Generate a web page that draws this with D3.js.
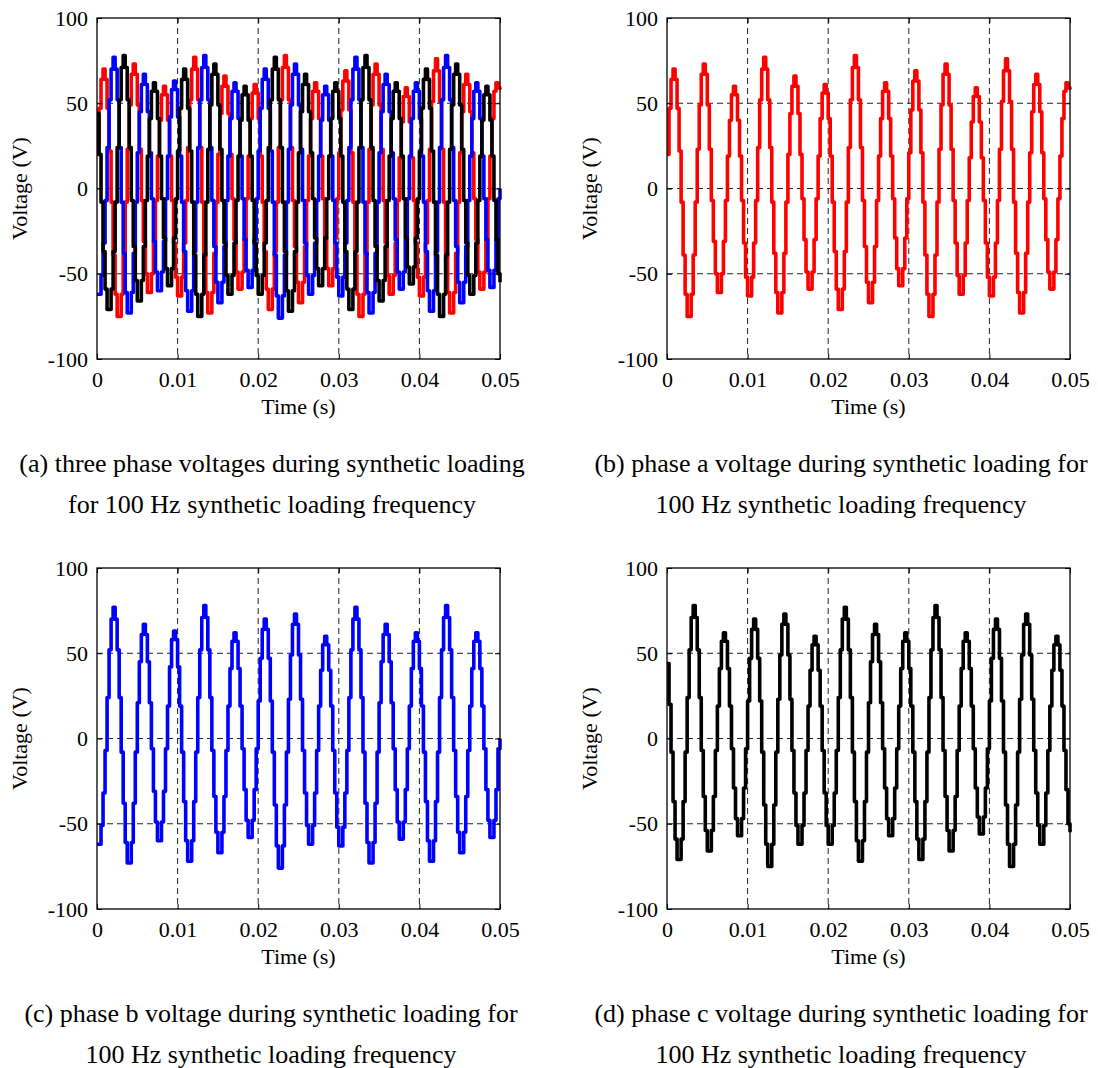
<!DOCTYPE html>
<html>
<head>
<meta charset="utf-8">
<script src="https://cdn.jsdelivr.net/npm/d3@7"></script>
<style>
  body { margin: 0; background: #fff; }
  text { font-family: "Liberation Serif", "Times New Roman", serif; fill: #000; }
</style>
</head>
<body>
<div id="app"></div>
<script>
// axis ticks and grid
var timeTicks = [0, 0.01, 0.02, 0.03, 0.04, 0.05];
var voltTicks = [-100, -50, 0, 50, 100];
var gridTimes = [0.01, 0.02, 0.03, 0.04];
var gridVolts = [-50, 0, 50];

// sampled phase voltages (V), one value every 0.25 ms from 0 to 0.05 s
var sampleStep = 0.00025;
var phaseA = [20, 47, 64,
  70, 64, 47, 22, -8, -39, -62, -75, -75, -62, -39, -8, 23, 49, 67,
  73, 67, 49, 23, -7, -31, -50, -61, -61, -50, -31, -7, 19, 40, 55,
  60, 55, 40, 19, -7, -32, -52, -63, -63, -52, -32, -7, 24, 52, 70,
  77, 70, 52, 24, -8, -38, -61, -73, -73, -61, -38, -8, 20, 44, 60,
  66, 60, 44, 20, -6, -30, -49, -59, -59, -49, -30, -6, 19, 41, 56,
  61, 56, 41, 19, -8, -37, -59, -71, -71, -59, -37, -8, 24, 52, 71,
  78, 71, 52, 24, -7, -34, -55, -67, -67, -55, -34, -7, 19, 41, 57,
  62, 57, 41, 19, -6, -29, -47, -57, -57, -47, -29, -6, 21, 46, 63,
  69, 63, 46, 21, -8, -39, -62, -75, -75, -62, -39, -8, 23, 49, 67,
  73, 67, 49, 23, -7, -32, -51, -62, -62, -51, -32, -7, 18, 39, 54,
  59, 54, 39, 18, -7, -32, -52, -63, -63, -52, -32, -7, 23, 51, 69,
  76, 69, 51, 23, -8, -38, -61, -73, -73, -61, -38, -8, 21, 45, 61,
  67, 61, 45, 21, -6, -30, -49, -59, -59, -49, -30, -6, 19, 41, 57,
  62, 59, 58];
var phaseB = [-62, -62, -51, -32, -7, 24, 52, 70,
  77, 70, 52, 24, -8, -38, -61, -73, -73, -61, -38, -8, 21, 45, 61,
  67, 61, 45, 21, -6, -31, -49, -60, -60, -49, -31, -6, 19, 42, 58,
  63, 58, 42, 19, -8, -37, -60, -72, -72, -60, -37, -8, 24, 52, 71,
  78, 71, 52, 24, -7, -34, -55, -67, -67, -55, -34, -7, 19, 41, 57,
  62, 57, 41, 19, -6, -30, -48, -58, -58, -48, -30, -6, 22, 47, 64,
  70, 64, 47, 22, -8, -39, -63, -76, -76, -63, -39, -8, 23, 49, 67,
  73, 67, 49, 23, -7, -32, -51, -62, -62, -51, -32, -7, 19, 40, 55,
  60, 55, 40, 19, -7, -32, -52, -63, -63, -52, -32, -7, 24, 52, 70,
  77, 70, 52, 24, -8, -38, -61, -73, -73, -61, -38, -8, 21, 45, 61,
  67, 61, 45, 21, -6, -30, -49, -59, -59, -49, -30, -6, 19, 41, 57,
  62, 57, 41, 19, -8, -37, -60, -72, -72, -60, -37, -8, 24, 52, 71,
  78, 71, 52, 24, -7, -34, -55, -67, -67, -55, -34, -7, 19, 41, 57,
  62, 57, 41, 19, -6, -30, -48, -58, -58, -48, -30, -6, 0];
var phaseC = [44, 20, -8, -37, -59, -71, -71, -59, -37, -8, 24, 52, 71,
  78, 71, 52, 24, -7, -34, -54, -66, -66, -54, -34, -7, 19, 41, 57,
  62, 57, 41, 19, -6, -29, -47, -57, -57, -47, -29, -6, 22, 47, 64,
  70, 64, 47, 22, -8, -39, -62, -75, -75, -62, -39, -8, 23, 49, 67,
  73, 67, 49, 23, -7, -32, -51, -62, -62, -51, -32, -7, 19, 40, 55,
  60, 55, 40, 19, -7, -32, -51, -62, -62, -51, -32, -7, 24, 52, 70,
  77, 70, 52, 24, -8, -37, -60, -72, -72, -60, -37, -8, 21, 45, 61,
  67, 61, 45, 21, -6, -29, -47, -57, -57, -47, -29, -6, 19, 41, 57,
  62, 57, 41, 19, -8, -37, -59, -71, -71, -59, -37, -8, 24, 52, 71,
  78, 71, 52, 24, -7, -34, -54, -66, -66, -54, -34, -7, 19, 41, 57,
  62, 57, 41, 19, -6, -29, -46, -56, -56, -46, -29, -6, 22, 47, 64,
  70, 64, 47, 22, -8, -39, -62, -75, -75, -62, -39, -8, 23, 49, 67,
  73, 67, 49, 23, -7, -32, -51, -62, -62, -51, -32, -7, 19, 40, 55,
  60, 55, 40, 19, -7, -30, -50, -55];

var captionA = ['(a) three phase voltages during synthetic loading', 'for 100 Hz synthetic loading frequency'];
var captionB = ['(b) phase a voltage during synthetic loading for', '100 Hz synthetic loading frequency'];
var captionC = ['(c) phase b voltage during synthetic loading for', '100 Hz synthetic loading frequency'];
var captionD = ['(d) phase c voltage during synthetic loading for', '100 Hz synthetic loading frequency'];

var RED = '#ff0000', BLUE = '#0000ff', BLACK = '#000000';

var panels = [
  {left: 97,  top: 18,  series: [phaseA, phaseB, phaseC], colors: [RED, BLUE, BLACK], caption: captionA, capX: 272},
  {left: 667, top: 18,  series: [phaseA], colors: [RED], caption: captionB, capX: 841},
  {left: 97,  top: 568, series: [phaseB], colors: [BLUE], caption: captionC, capX: 271},
  {left: 667, top: 568, series: [phaseC], colors: [BLACK], caption: captionD, capX: 841}
];

var width = 403;
var height = 341;

var svg = d3.select('#app')
  .append('svg')
    .attr('width', 1098)
    .attr('height', 1068);

var x = d3.scaleLinear().domain([0, 0.05]).range([0, width]);
var y = d3.scaleLinear().domain([-100, 100]).range([height, 0]);

var line = d3.line()
  .x(function(d, i) { return x(i * sampleStep); })
  .y(function(d) { return y(d); })
  .curve(d3.curveStepAfter);

// plain hyphen minus like the original figure
var fmtTime = function(d) { return d === 0 ? '0' : d3.format('.2f')(d); };
var fmtVolt = function(d) { return String(d); };

panels.forEach(function(p) {
  var g = svg.append('g')
    .attr('transform', 'translate(' + p.left + ',' + p.top + ')');

  // dashed grid
  g.selectAll('.vgrid')
    .data(gridTimes)
  .enter().append('line')
    .attr('x1', function(d) { return x(d); })
    .attr('x2', function(d) { return x(d); })
    .attr('y1', 0)
    .attr('y2', height)
    .attr('stroke', '#222')
    .attr('stroke-width', 1)
    .attr('stroke-dasharray', '6,4');

  g.selectAll('.hgrid')
    .data(gridVolts)
  .enter().append('line')
    .attr('x1', 0)
    .attr('x2', width)
    .attr('y1', function(d) { return y(d); })
    .attr('y2', function(d) { return y(d); })
    .attr('stroke', '#222')
    .attr('stroke-width', 1)
    .attr('stroke-dasharray', '6,4');

  // waveforms
  p.series.forEach(function(s, k) {
    g.append('path')
      .datum(s)
      .attr('d', line)
      .attr('fill', 'none')
      .attr('stroke', p.colors[k])
      .attr('stroke-width', 3.6)
      .attr('stroke-linejoin', 'round');
  });

  // axes with inward ticks
  var xb = g.append('g')
    .attr('transform', 'translate(0,' + height + ')')
    .call(d3.axisBottom(x).tickValues(timeTicks).tickFormat(fmtTime)
      .tickSizeInner(-5).tickSizeOuter(0).tickPadding(12));
  var yl = g.append('g')
    .call(d3.axisLeft(y).tickValues(voltTicks).tickFormat(fmtVolt)
      .tickSizeInner(-5).tickSizeOuter(0).tickPadding(9));
  g.append('g')
    .call(d3.axisTop(x).tickValues(timeTicks).tickFormat('')
      .tickSizeInner(-5).tickSizeOuter(0));
  g.append('g')
    .attr('transform', 'translate(' + width + ',0)')
    .call(d3.axisRight(y).tickValues(voltTicks).tickFormat('')
      .tickSizeInner(-5).tickSizeOuter(0));

  g.selectAll('.domain').remove();
  g.selectAll('.tick line').attr('stroke', '#000');
  [xb, yl].forEach(function(a) {
    a.selectAll('text')
      .attr('font-family', '"Liberation Serif", "Times New Roman", serif')
      .attr('font-size', 22)
      .attr('fill', '#000');
  });

  // frame
  g.append('rect')
    .attr('width', width)
    .attr('height', height)
    .attr('fill', 'none')
    .attr('stroke', '#000')
    .attr('stroke-width', 1.3);

  // axis titles
  g.append('text')
    .attr('x', width / 2)
    .attr('y', height + 55)
    .attr('text-anchor', 'middle')
    .attr('font-size', 22)
    .text('Time (s)');

  g.append('text')
    .attr('transform', 'translate(-70,' + (height / 2) + ') rotate(-90)')
    .attr('text-anchor', 'middle')
    .attr('font-size', 22)
    .text('Voltage (V)');

  // caption
  svg.append('g').selectAll('text')
    .data(p.caption)
  .enter().append('text')
    .attr('x', p.capX)
    .attr('y', function(d, i) { return p.top + 454 + i * 41; })
    .attr('text-anchor', 'middle')
    .attr('font-size', 26)
    .text(function(d) { return d; });
});
</script>
</body>
</html>
